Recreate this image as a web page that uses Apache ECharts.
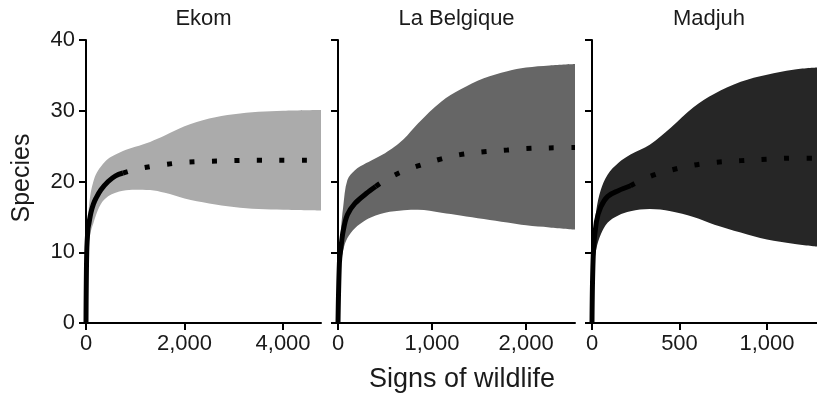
<!DOCTYPE html>
<html>
<head>
<meta charset="utf-8">
<script src="https://cdn.jsdelivr.net/npm/echarts@6/dist/echarts.min.js"></script>
<style>
  html, body { margin: 0; padding: 0; background: #fff; }
  #chart { width: 817px; height: 398px; }
</style>
</head>
<body>
<div id="chart"></div>
<script>
// panel titles
var sites = ['Ekom', 'La Belgique', 'Madjuh'];

// Ekom: sample size, estimate, 95% band; obs = observed sample size (solid line ends)
var ekomX     = [0, 15, 40, 60, 100, 150, 200, 300, 450, 600, 750, 1000, 1300, 1600, 2000, 2500, 3000, 3500, 4000, 4770];
var ekomMean  = [0, 10, 13.3, 14.1, 15.6, 16.8, 17.6, 18.8, 20.0, 20.8, 21.2, 21.7, 22.1, 22.4, 22.7, 22.85, 22.95, 23.0, 23.0, 23.0];
var ekomLower = [0, 8.5, 10.5, 11.5, 13.0, 14.1, 15.2, 16.8, 17.9, 18.4, 18.7, 18.85, 18.8, 18.4, 17.6, 16.9, 16.4, 16.1, 16.0, 15.9];
var ekomUpper = [0, 11.5, 14.5, 16.5, 18.6, 20.0, 21.0, 22.1, 23.2, 23.8, 24.3, 24.9, 25.6, 26.5, 27.8, 28.9, 29.5, 29.85, 30.0, 30.1];
var ekomObs = 750;

// La Belgique
var belX     = [0, 15, 30, 55, 100, 180, 300, 400, 500, 600, 700, 850, 1100, 1300, 1550, 1800, 2000, 2250, 2520];
var belMean  = [0, 8.5, 10.5, 13.0, 15.3, 16.9, 18.3, 19.3, 20.2, 20.9, 21.5, 22.2, 23.2, 23.8, 24.2, 24.45, 24.65, 24.75, 24.8];
var belLower = [0, 7, 8.5, 10.3, 12.0, 13.4, 14.6, 15.2, 15.6, 15.8, 15.95, 16.0, 15.6, 15.2, 14.7, 14.2, 13.8, 13.5, 13.2];
var belUpper = [0, 10, 13, 16.4, 20.2, 21.6, 22.6, 23.3, 24.0, 24.9, 26.0, 28.2, 31.3, 33.0, 34.6, 35.6, 36.1, 36.4, 36.6];
var belObs = 400;

// Madjuh
var madX     = [0, 8, 25, 50, 90, 150, 220, 330, 450, 580, 700, 850, 1000, 1150, 1286];
var madMean  = [0, 10, 14.3, 16.4, 17.9, 18.7, 19.4, 20.7, 21.6, 22.3, 22.7, 22.95, 23.15, 23.3, 23.3];
var madLower = [0, 7.5, 10.5, 12.5, 14.2, 15.2, 15.8, 16.1, 15.8, 15.0, 13.9, 12.8, 11.8, 11.2, 10.8];
var madUpper = [0, 12, 16.0, 18.8, 21.0, 22.6, 23.8, 25.2, 27.6, 30.5, 32.4, 34.1, 35.1, 35.8, 36.1];
var madObs = 220;

// axes
var xMax = [4770, 2520, 1286];
var xStep = [2000, 1000, 500];
var xTicks = [[0, 2000, 4000], [0, 1000, 2000], [0, 500, 1000]];

var bandColors = ['#ababab', '#666666', '#262626'];
var font = '"Liberation Sans", Arial, sans-serif';
var textColor = '#1a1a1a';

var grids = [
  { left: 86, top: 40, width: 235, height: 283 },
  { left: 338, top: 40, width: 237, height: 283 },
  { left: 592, top: 40, width: 225, height: 283 }
];

function panelSeries(i, xs, mean, lower, upper, obs) {
  var upperData = xs.map(function (x, k) { return [x, upper[k]]; });
  var lowerData = xs.map(function (x, k) { return [x, lower[k]]; });
  var interp = [], extrap = [];
  xs.forEach(function (x, k) {
    if (x <= obs) interp.push([x, mean[k]]);
    if (x >= obs) extrap.push([x, mean[k]]);
  });
  var common = { type: 'line', xAxisIndex: i, yAxisIndex: i, symbol: 'none', smooth: 0.35, silent: true };
  // band: fill under upper, then cover under lower with white
  return [
    Object.assign({}, common, { data: upperData, z: 2, lineStyle: { width: 0 }, areaStyle: { color: bandColors[i], opacity: 1 } }),
    Object.assign({}, common, { data: lowerData, z: 3, lineStyle: { width: 0 }, areaStyle: { color: '#fff', opacity: 1 } }),
    Object.assign({}, common, { data: interp, z: 5, lineStyle: { color: '#000', width: 5 } }),
    Object.assign({}, common, { data: extrap, z: 5, lineStyle: { color: '#000', width: 5, type: [5, 17.5], cap: 'butt' } })
  ];
}

var xAxes = [0, 1, 2].map(function (i) {
  return {
    gridIndex: i, type: 'value', min: 0, max: xMax[i], interval: xStep[i], z: 10,
    axisLine: { show: true, onZero: false, lineStyle: { color: '#000', width: 2 } },
    axisTick: { show: true, length: 7, customValues: xTicks[i], lineStyle: { color: '#000', width: 2 } },
    axisLabel: {
      customValues: xTicks[i], margin: 10, fontSize: 22, fontFamily: font, color: textColor,
      formatter: function (v) { return v.toLocaleString('en-US'); }
    },
    splitLine: { show: false }
  };
});

var yAxes = [0, 1, 2].map(function (i) {
  return {
    gridIndex: i, type: 'value', min: 0, max: 40, interval: 10, z: 10,
    axisLine: { show: true, lineStyle: { color: '#000', width: 2 } },
    axisTick: { show: true, length: 7, lineStyle: { color: '#000', width: 2 } },
    axisLabel: { show: i === 0, margin: 11, fontSize: 22, fontFamily: font, color: textColor },
    splitLine: { show: false }
  };
});

var titleX = [203.5, 456.5, 709];
var graphics = sites.map(function (name, i) {
  return { type: 'text', x: titleX[i], y: 19, style: { text: name, align: 'center', verticalAlign: 'middle', font: '22px ' + font, fill: textColor } };
});
graphics.push({ type: 'text', x: 22, y: 178, rotation: Math.PI / 2, style: { text: 'Species', align: 'center', verticalAlign: 'middle', font: '25px ' + font, fill: textColor } });
graphics.push({ type: 'text', x: 462, y: 380, style: { text: 'Signs of wildlife', align: 'center', verticalAlign: 'middle', font: '27px ' + font, fill: textColor } });

var myChart = echarts.init(document.getElementById('chart'));
myChart.setOption({
  animation: false,
  backgroundColor: '#fff',
  grid: grids,
  xAxis: xAxes,
  yAxis: yAxes,
  graphic: graphics,
  series: [].concat(
    panelSeries(0, ekomX, ekomMean, ekomLower, ekomUpper, ekomObs),
    panelSeries(1, belX, belMean, belLower, belUpper, belObs),
    panelSeries(2, madX, madMean, madLower, madUpper, madObs)
  )
});
</script>
</body>
</html>
